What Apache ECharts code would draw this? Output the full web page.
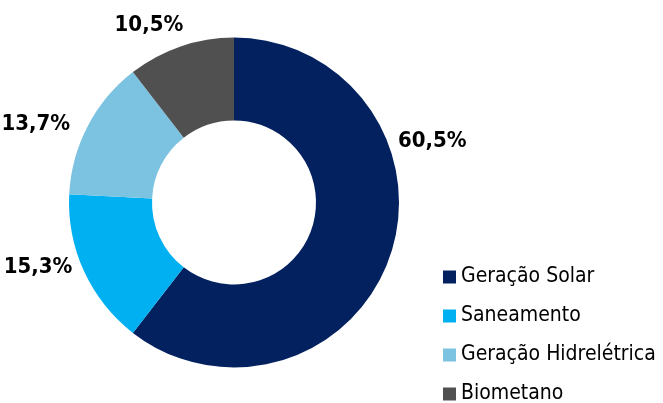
<!DOCTYPE html>
<html lang="pt">
<head>
    <meta charset="UTF-8">
    <title>Donut</title>
    <style>
        html, body { margin: 0; padding: 0; background: #fff; }
        #chart { width: 663px; height: 403px; }
    </style>
</head>
<body>
<div id="chart"></div>
<script src="https://cdn.jsdelivr.net/npm/echarts@6.0.0/dist/echarts.min.js"></script>
<script>
var categories = ['Geração Solar', 'Saneamento', 'Geração Hidrelétrica', 'Biometano'];
var values = [60.5, 15.3, 13.7, 10.5];
var colors = ['#03215f', '#00b0f0', '#7cc3e1', '#505050'];
// nudges for the hand-placed labels of the original (dx, dy)
var labelNudge = [[-3, -116], [-1, -6], [-7, 0], [11, -17]];

var narrow = "'Liberation Sans Narrow', 'DejaVu Sans Condensed', 'Arial Narrow', sans-serif";

var chart = echarts.init(document.getElementById('chart'));
var data = categories.map(function (name, i) {
    return { name: name, value: values[i], itemStyle: { color: colors[i] } };
});

chart.setOption({
    animation: false,
    legend: {
        orient: 'vertical',
        left: 443,
        top: 266,
        height: 200,
        padding: 0,
        icon: 'rect',
        itemWidth: 13,
        itemHeight: 13,
        itemGap: 17,
        textStyle: { fontFamily: narrow, fontSize: 21, color: '#000', lineHeight: 22 },
        data: categories
    },
    series: [{
        type: 'pie',
        center: [234, 202.5],
        radius: [82, 165],
        startAngle: 90,
        clockwise: true,
        avoidLabelOverlap: false,
        label: {
            show: true,
            position: 'outside',
            formatter: function (p) { return p.value.toFixed(1).replace('.', ',') + '%'; },
            fontFamily: narrow,
            fontWeight: 'bold',
            fontSize: 22,
            color: '#000'
        },
        labelLine: { show: false, length: 4, length2: 2 },
        labelLayout: function (p) {
            var n = labelNudge[p.dataIndex];
            return { dx: n[0], dy: n[1] };
        },
        data: data
    }]
});
</script>
</body>
</html>
